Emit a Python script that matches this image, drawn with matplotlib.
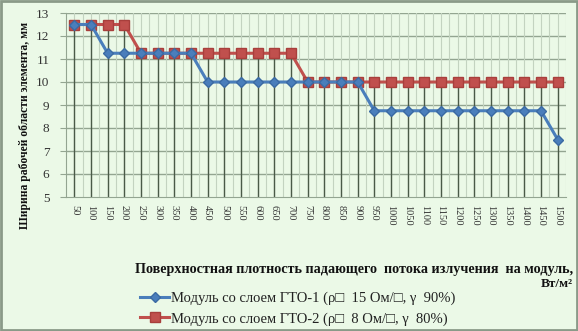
import matplotlib
matplotlib.use("Agg")
import matplotlib.pyplot as plt
from matplotlib.patches import Rectangle
import numpy as np

categories = [str(v) for v in range(50, 1501, 50)]
gto1 = [12.5, 12.5, 11.25, 11.25, 11.25, 11.25, 11.25, 11.25, 10, 10,
        10, 10, 10, 10, 10, 10, 10, 10, 8.75, 8.75,
        8.75, 8.75, 8.75, 8.75, 8.75, 8.75, 8.75, 8.75, 8.75, 7.5]
gto2 = [12.5, 12.5, 12.5, 12.5, 11.25, 11.25, 11.25, 11.25, 11.25, 11.25,
        11.25, 11.25, 11.25, 11.25, 10, 10, 10, 10, 10, 10,
        10, 10, 10, 10, 10, 10, 10, 10, 10, 10]
label1 = "Модуль со слоем ГТО-1 (ρ□  15 Ом/□, γ  90%)"
label2 = "Модуль со слоем ГТО-2 (ρ□  8 Ом/□, γ  80%)"
ylabel = "Ширина рабочей области элемента, мм"
xlabel1 = "Поверхностная плотность падающего  потока излучения  на модуль,"
xlabel2 = "Вт/м²"

serif = ["Liberation Serif", "DejaVu Serif"]
plt.rcParams["font.family"] = serif

bg = "#ebf9e7"
W, H = 578, 331
fig = plt.figure(figsize=(W / 100, H / 100), dpi=100, facecolor=bg)
fig.patches.append(Rectangle((0.002, 0.003), 0.996, 0.994, transform=fig.transFigure,
                             fill=False, edgecolor="#8a9a88", linewidth=2.0))

left, right, top, bottom = 66, 566, 13, 197
ax = fig.add_axes([left / W, 1 - bottom / H, (right - left) / W, (bottom - top) / H])
ax.set_facecolor(bg)

x = np.arange(len(categories))
ax.set_xlim(-0.5, len(categories) - 0.5)
ax.set_ylim(5, 13)
ax.set_yticks(range(5, 14))

# gridlines
for yv in range(6, 14):
    ax.axhline(yv, color="#93a591", lw=1.0, zorder=1)
for xi in x:
    ax.axvline(xi, color="#c3d3c0", lw=0.8, zorder=1)
    ax.axvline(xi + 0.5, color="#c3d3c0", lw=0.8, zorder=1)

# drop lines
mx = np.maximum(gto1, gto2)
ax.vlines(x, 5, mx, colors="#4a5a48", lw=1.0, zorder=2)

ax.plot(x, gto1, color="#4a7ebb", lw=2.2, marker="D", ms=5,
        mfc="#4a7ebb", mec="#3b6aa3", zorder=4, label=label1)
ax.plot(x, gto2, color="#c0504d", lw=2.2, marker="s", ms=7,
        mfc="#c0504d", mec="#a83f3c", zorder=3, label=label2)

for s in ["top", "right"]:
    ax.spines[s].set_visible(False)
ax.spines["left"].set_color("#93a591")
ax.spines["bottom"].set_color("#93a591")
ax.set_xticks(x)
ax.set_xticklabels(categories, rotation=270, fontsize=7.5)
ax.tick_params(axis="x", length=0, pad=6)
ax.tick_params(axis="y", length=4, colors="#93a591", labelcolor="#333333", labelsize=9.5, pad=8)
ax.tick_params(axis="x", labelcolor="#333333")

fig.text(25 / W, 1 - 125 / H, ylabel, rotation=90, ha="center", va="center",
         fontsize=8.4, fontweight="bold", color="#111111")
fig.text(573 / W, 1 - 269 / H, xlabel1, ha="right", va="center",
         fontsize=10.2, fontweight="bold", color="#111111")
fig.text(573 / W, 1 - 284 / H, xlabel2, ha="right", va="center",
         fontsize=9.5, fontweight="bold", color="#111111")

leg = fig.legend(loc="upper left", bbox_to_anchor=(140 / W, 1 - 292 / H),
                 frameon=False, fontsize=10.5, handlelength=2.0, handletextpad=0.1,
                 labelspacing=0.45, borderaxespad=0, borderpad=0)
for t in leg.get_texts():
    t.set_color("#222222")

fig.savefig("out.png", dpi=100, facecolor=bg)
